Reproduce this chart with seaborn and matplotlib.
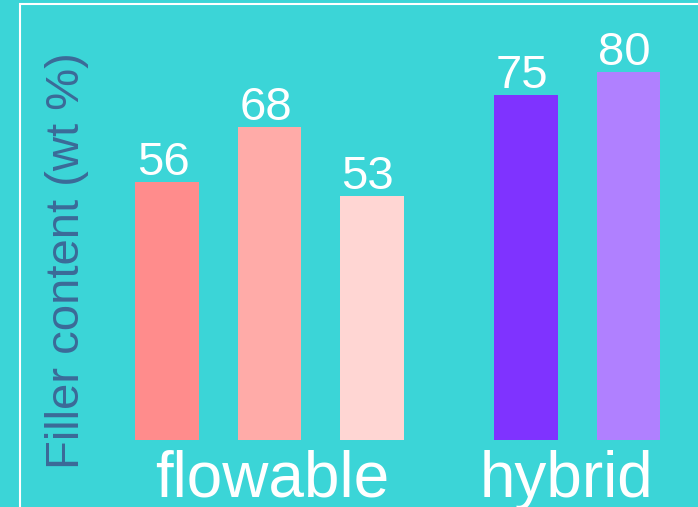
import matplotlib
matplotlib.use("Agg")
import matplotlib.pyplot as plt
import seaborn as sns
from matplotlib.patches import Rectangle

# data
materials = ["flowable 1", "flowable 2", "flowable 3", "hybrid 1", "hybrid 2"]
positions = [0, 1, 2, 3.5, 4.5]
filler = [56, 68, 53, 75, 80]
bar_colors = ["#FF8C8C", "#FFABA8", "#FFD6D3", "#7F33FF", "#B080FF"]
groups = ["flowable", "hybrid"]
group_pos = [1.03, 3.9]

bg = "#3BD5D7"

sns.set_theme(style="white")
plt.rcParams["font.family"] = ["Liberation Sans", "DejaVu Sans"]

fig = plt.figure(figsize=(6.98, 5.07), dpi=100)
fig.patch.set_facecolor(bg)
ax = fig.add_axes([0, 0, 1, 1])
ax.set_facecolor(bg)

sns.barplot(x=positions, y=filler, hue=materials, palette=bar_colors,
            native_scale=True, width=0.62, dodge=False, saturation=1,
            legend=False, ax=ax, linewidth=0)

# value labels sit a touch left of the bar centre, like the original
for p, v in zip(positions, filler):
    ax.text(p - 0.04, v - 0.6, str(v), ha="center", va="bottom", color="white",
            fontsize=34)

for g, p in zip(groups, group_pos):
    ax.text(p, -12.4, g, ha="center", va="baseline", color="white", fontsize=46)

ax.text(-0.976, 39, "Filler content (wt %)", rotation=90, ha="center",
        va="center", color="#3B6A98", fontsize=34)

ax.set_xlim(-1.63, 5.18)
ax.set_ylim(-14.6, 95.7)
ax.axis("off")

# white frame (only top and left edges visible)
fig.patches.append(Rectangle((20 / 698, -0.1), 1.2, 1.1 - 4 / 507,
                             transform=fig.transFigure, fill=False,
                             edgecolor="white", linewidth=1.5))

fig.savefig("out.png", dpi=100, facecolor=bg)
